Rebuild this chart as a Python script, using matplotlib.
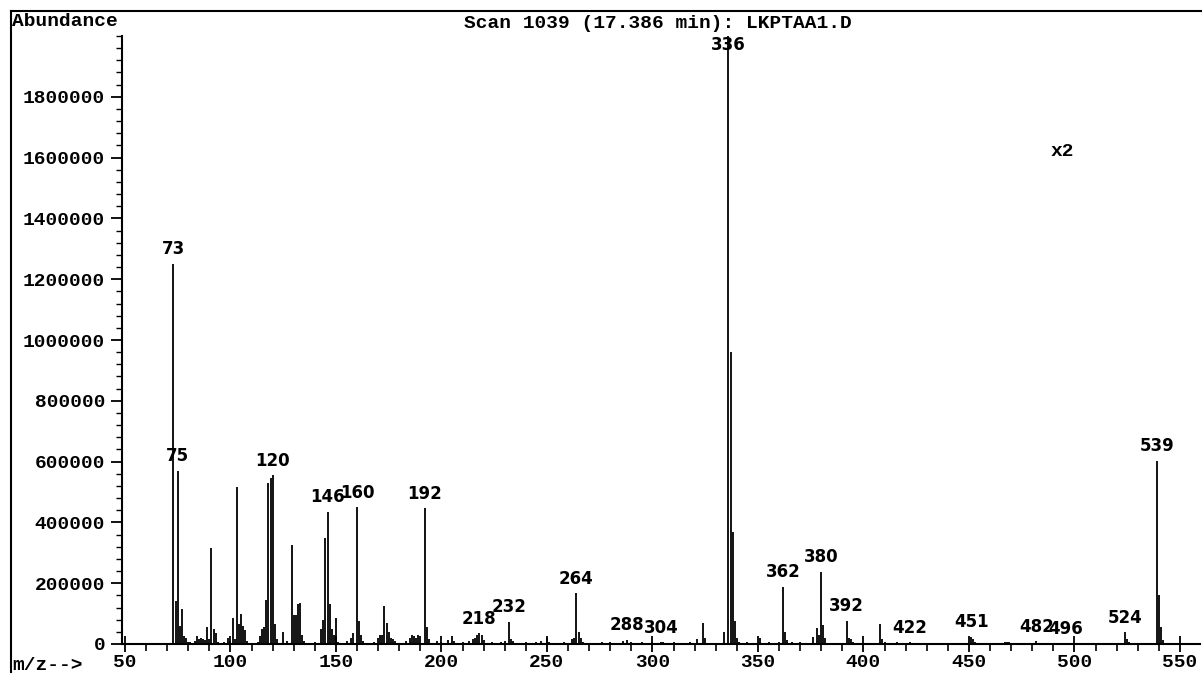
import matplotlib
matplotlib.use("Agg")
import matplotlib.pyplot as plt
from matplotlib.lines import Line2D
from matplotlib.ticker import MultipleLocator

# ---- data (m/z, abundance) ----
mz = [73, 74, 75, 76, 77, 78, 79, 80, 81, 83, 84, 85, 86, 87, 88, 89, 90, 91, 92, 93,
      94, 97, 99, 100, 101, 102, 103, 104, 105, 106, 107, 108, 113, 114, 115, 116, 117,
      118, 119, 120, 121, 122, 125, 127, 129, 130, 131, 132, 133, 134, 135, 140, 143,
      144, 145, 146, 147, 148, 149, 150, 151, 155, 157, 158, 160, 161, 162, 163, 168,
      170, 171, 172, 173, 174, 175, 176, 177, 178, 183, 185, 186, 187, 188, 189, 190,
      192, 193, 194, 198, 200, 203, 205, 206, 210, 213, 215, 216, 217, 218, 219, 220,
      224, 228, 230, 232, 233, 234, 240, 245, 247, 250, 251, 258, 262, 263, 264, 265,
      266, 267, 276, 280, 286, 288, 290, 295, 300, 304, 305, 310, 318, 321, 324, 325,
      334, 336, 337, 338, 339, 340, 341, 345, 351, 355, 360, 362, 363, 364, 366, 370,
      376, 378, 379, 380, 381, 382, 392, 393, 394, 395, 408, 409, 410, 416, 422, 436,
      451, 452, 453, 467, 468, 469, 470, 478, 482, 490, 496, 510, 524, 525, 526, 539,
      540, 541, 542]
abundance = [1250000, 140000, 570000, 60000, 115000, 25000, 20000, 8000, 5000, 10000,
             25000, 15000, 20000, 15000, 12000, 55000, 15000, 315000, 50000, 35000,
             8000, 8000, 20000, 10000, 85000, 15000, 517000, 65000, 100000, 60000,
             45000, 10000, 8000, 25000, 50000, 55000, 145000, 530000, 545000, 555000,
             65000, 15000, 40000, 10000, 325000, 95000, 95000, 130000, 135000, 30000,
             10000, 8000, 50000, 80000, 350000, 435000, 130000, 50000, 30000, 85000,
             8000, 10000, 20000, 35000, 450000, 75000, 30000, 10000, 8000, 20000,
             30000, 30000, 125000, 70000, 40000, 20000, 15000, 10000, 10000, 20000,
             30000, 25000, 20000, 30000, 25000, 447000, 57000, 15000, 10000, 8000,
             12000, 25000, 10000, 8000, 10000, 15000, 20000, 30000, 36000, 30000,
             12000, 8000, 8000, 10000, 73000, 15000, 10000, 8000, 8000, 10000, 20000,
             8000, 8000, 15000, 20000, 167000, 40000, 20000, 8000, 6000, 8000, 10000,
             13000, 5000, 5000, 6000, 6000, 8000, 5000, 8000, 15000, 70000, 20000,
             40000, 2000000, 960000, 370000, 75000, 20000, 8000, 5000, 20000, 5000,
             8000, 188000, 40000, 12000, 5000, 6000, 22000, 52000, 30000, 238000,
             62000, 20000, 76000, 20000, 15000, 6000, 66000, 15000, 5000, 5000, 6000,
             4000, 23000, 15000, 6000, 8000, 8000, 6000, 4000, 4000, 9000, 4000, 3000,
             4000, 38000, 15000, 6000, 602000, 160000, 57000, 12000]
labeled = [73, 75, 120, 146, 160, 192, 218, 232, 264, 288, 304, 336, 362, 380, 392,
           422, 451, 482, 496, 524, 539]
y_ticks = [0, 200000, 400000, 600000, 800000, 1000000, 1200000, 1400000, 1600000, 1800000]
x_ticks = [50, 100, 150, 200, 250, 300, 350, 400, 450, 500, 550]

title = "Scan 1039 (17.386 min): LKPTAA1.D"

W, H = 1202, 675
fig = plt.figure(figsize=(W / 100, H / 100), dpi=100)
mono = dict(family="Liberation Mono", weight="bold", size=14)

ax = fig.add_axes([122 / W, 31 / H, 1078 / W, 608 / H])
ymax = 2000000
ax.set_xlim(48.6, 559.5)
ax.set_ylim(0, ymax)
ax.vlines(mz, 0, abundance, colors="black", linewidth=1.3)

lookup = dict(zip(mz, abundance))
for m in labeled:
    a = lookup[m]
    if a > 0.97 * ymax:
        ax.annotate(str(m), (m, a), xytext=(0, 0), textcoords="offset points",
                    ha="center", va="top", fontsize=12, fontweight="bold",
                    family="DejaVu Sans")
    else:
        ax.annotate(str(m), (m, a), xytext=(0, 4), textcoords="offset points",
                    ha="center", va="bottom", fontsize=12, fontweight="bold",
                    family="DejaVu Sans")

for s in ["top", "right"]:
    ax.spines[s].set_visible(False)
for s in ["left", "bottom"]:
    ax.spines[s].set_linewidth(1.5)

ax.set_xticks(x_ticks)
ax.set_xticklabels([str(v) for v in x_ticks])
ax.xaxis.set_minor_locator(MultipleLocator(10))
ax.set_yticks(y_ticks)
ax.set_yticklabels([str(v) for v in y_ticks])
ax.yaxis.set_minor_locator(MultipleLocator(40000))
ax.tick_params(axis="x", which="major", direction="inout", length=12, width=1.3, pad=1)
ax.tick_params(axis="x", which="minor", direction="out", length=5, width=1.2)
ax.tick_params(axis="y", which="major", direction="out", length=8, width=1.3, pad=4)
ax.tick_params(axis="y", which="minor", direction="out", length=4, width=1.0)
for lab in ax.get_xticklabels() + ax.get_yticklabels():
    lab.set_fontfamily("Liberation Mono")
    lab.set_fontweight("bold")
    lab.set_fontsize(14)

# figure-level texts
fig.text(12 / W, 1 - 22 / H, "Abundance", ha="left", va="center", **mono)
fig.text(657.5 / W, 1 - 24 / H, title, ha="center", va="center", **mono)
fig.text(1062 / W, 1 - 152 / H, "x2", ha="center", va="center", **mono)
fig.text(12 / W, 1 - 666 / H, "m/z-->", ha="left", va="center", **mono)

# outer frame lines
fig.add_artist(Line2D([11 / W, 1.0], [1 - 11 / H, 1 - 11 / H], color="black", lw=1.5))
fig.add_artist(Line2D([11 / W, 11 / W], [1 - 11 / H, 1 - 672 / H], color="black", lw=1.5))

fig.savefig("out.png", dpi=100)
